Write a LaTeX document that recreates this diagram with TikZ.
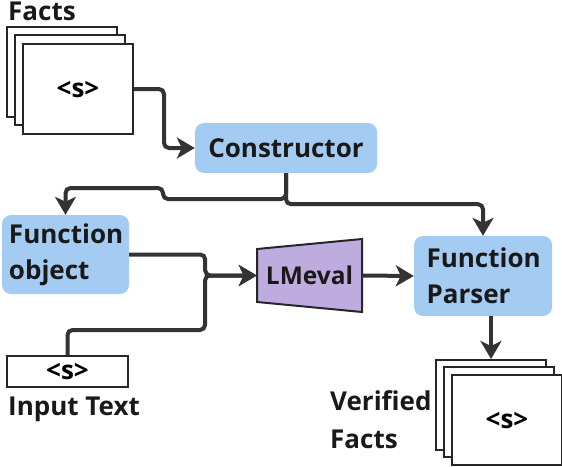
\documentclass[tikz,border=0pt]{standalone}
\usepackage{xcolor}
\usepackage{fontspec}
\setmainfont{Open Sans}
\usepackage{tikz}
\usetikzlibrary{arrows.meta}
\definecolor{boxblue}{HTML}{A4CCF2}
\definecolor{evalpurple}{HTML}{BFACDE}
\definecolor{linegray}{HTML}{333333}

\begin{document}
\begin{tikzpicture}[x=1pt,y=-1pt,
  txt/.style={font=\fontsize{26}{36}\selectfont\bfseries, text=black!90},
  page/.style={draw=black!85, line width=2pt, fill=white, minimum width=110pt, minimum height=90pt, inner sep=0pt, font=\fontsize{26}{30}\selectfont\bfseries},
  blockbox/.style={txt, fill=boxblue, rounded corners=9pt, inner sep=0pt},
  twoline/.style={blockbox, text width=113pt, align=left},
  conn/.style={draw=linegray, line width=4pt, rounded corners=5pt, -{Stealth[length=18pt,width=21pt,inset=5pt]}}]
\useasboundingbox (0,0) rectangle (562,466);
\node[txt, anchor=base west, inner sep=0pt] (factslbl) at (8,20) {Facts};
\node[page] (fa) at (62,72) {};
\node[page] (fb) at (70,80) {};
\node[page] (facts) at (78,89) {<s>};
\node[blockbox, minimum width=182pt, minimum height=50pt] (cons) at (286,148) {Constructor};
\node[twoline, minimum width=127pt, minimum height=79pt] (fobj) at (65.5,254.5) {Function\\object};
\node[twoline, minimum width=138pt, minimum height=80pt] (parser) at (483,276) {Function\\Parser};
\node[page, minimum width=121pt, minimum height=31pt] (input) at (67.5,371.5) {<s>};
\node[txt, anchor=base west, inner sep=0pt] (inputlbl) at (8,415) {Input Text};
\filldraw[fill=evalpurple, draw=black!85, line width=2pt] (257,249) -- (362,239) -- (362,312) -- (257,302) -- cycle;
\node[txt, font=\fontsize{24.5}{30}\selectfont\bfseries, inner sep=0pt, minimum width=105pt, minimum height=50pt] (lmeval) at (309.5,275.5) {LMeval};
\node[page] (va) at (491,405) {};
\node[page] (vb) at (499,412) {};
\node[page] (verified) at (507,420) {<s>};
\node[txt, font=\fontsize{26}{38}\selectfont\bfseries, anchor=north west, inner sep=0pt, align=left] (verlbl) at (330,390) {Verified\\Facts};
\draw[conn] (facts.east) -- ++(30,0) |- (cons.west);
\draw[conn] (cons.south) |- (163,199) -- (163,188) -| (fobj.north);
\draw[conn] (cons.south) -- ++(0,31) -| (parser.north);
\draw[conn] (fobj.east) -- ++(76,0) |- (lmeval.west);
\draw[conn] (input.north) |- (205,330) |- (lmeval.west);
\draw[conn] (lmeval.east) -- (parser.west);
\draw[conn] (parser.south -| va.north) -- (va.north);
\end{tikzpicture}
\end{document}
